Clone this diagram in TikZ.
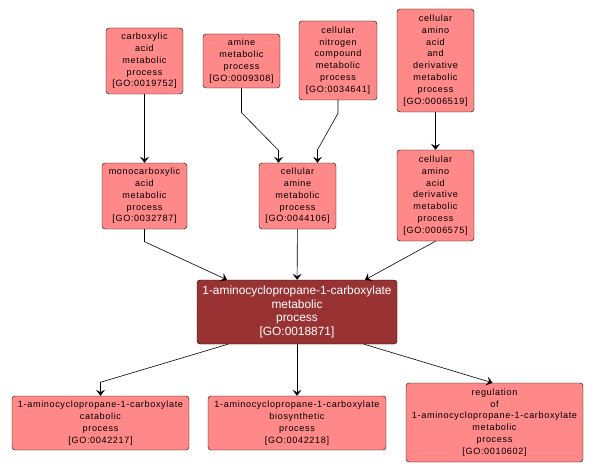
\documentclass[tikz,border=0pt]{standalone}
\usepackage{fontspec}
\usetikzlibrary{arrows.meta}
\newfontfamily\gofont[LetterSpace=7]{Liberation Sans}
\newfontfamily\gomainfont{Liberation Sans}
\definecolor{termfill}{RGB}{255,136,136}
\definecolor{mainfill}{RGB}{153,51,51}
\tikzset{
	term/.style={draw=black,fill=termfill,rounded corners=3pt,align=center,inner sep=1pt,
		font=\gofont\fontsize{9.1}{11.8}\selectfont},
	termmain/.style={draw=black,fill=mainfill,text=white,rounded corners=3pt,align=center,inner sep=1pt,
		font=\gomainfont\fontsize{11.9}{13.6}\selectfont},
	isa/.style={semithick,->},
	>={Stealth[length=6pt,width=9pt,inset=2.5pt]},
	}
\begin{document}
\begin{tikzpicture}[x=1pt,y=-1pt]
\useasboundingbox (0,0) rectangle (596,473);

\node (ca) at (144.5,61) [term,minimum width=77,minimum height=66] {carboxylic\\acid\\metabolic\\process\\{[GO:0019752]}};
\node (am) at (241.5,61) [term,minimum width=77,minimum height=54] {amine\\metabolic\\process\\{[GO:0009308]}};
\node (cn) at (338,60.5) [term,minimum width=78,minimum height=79] {cellular\\nitrogen\\compound\\metabolic\\process\\{[GO:0034641]}};
\node (aad) at (435.5,60.5) [term,minimum width=77,minimum height=103] {cellular\\amino\\acid\\and\\derivative\\metabolic\\process\\{[GO:0006519]}};

\node (mc) at (144.5,196) [term,minimum width=85,minimum height=66] {monocarboxylic\\acid\\metabolic\\process\\{[GO:0032787]}};
\node (cam) at (297.5,196) [term,minimum width=77,minimum height=66] {cellular\\amine\\metabolic\\process\\{[GO:0044106]}};
\node (cad) at (435.5,195.5) [term,minimum width=77,minimum height=91] {cellular\\amino\\acid\\derivative\\metabolic\\process\\{[GO:0006575]}};

\node (main) at (297,312) [termmain,minimum width=200,minimum height=64] {1-aminocyclopropane-1-carboxylate\\metabolic\\process\\{[GO:0018871]}};

\node (cat) at (100.5,423) [term,minimum width=177,minimum height=54] {1-aminocyclopropane-1-carboxylate\\catabolic\\process\\{[GO:0042217]}};
\node (bio) at (297,423) [term,minimum width=178,minimum height=54] {1-aminocyclopropane-1-carboxylate\\biosynthetic\\process\\{[GO:0042218]}};
\node (reg) at (494.5,422.5) [term,minimum width=177,minimum height=79] {regulation\\of\\1-aminocyclopropane-1-carboxylate\\metabolic\\process\\{[GO:0010602]}};

 % straight is_a links
 \foreach \a/\b in {ca/mc,aad/cad,cam/main,main/bio}
 \draw[isa] (\a) -- (\b);

 % bent links
 \draw[isa] (am.south) -- ++(0,24.5) -- ([shift={(-19,-12.5)}]cam.north) -- ([shift={(-19,0)}]cam.north);
 \draw[isa] (cn.south) -- ++(0,13) -- ([shift={(20,-13)}]cam.north) -- ([shift={(20,0)}]cam.north);
 \draw[isa] (mc.south) -- ++(0,12.5) -- ([shift={(-70,0)}]main.north);
 \draw[isa] (cad.south) -- ([shift={(68,0)}]main.north);
 \draw[isa] ([shift={(-69,0)}]main.south) -- ([shift={(0,-13.5)}]cat.north) -- (cat.north);
 \draw[isa] ([shift={(67,0)}]main.south) -- ([shift={(-2,0)}]reg.north);
\end{tikzpicture}
\end{document}
